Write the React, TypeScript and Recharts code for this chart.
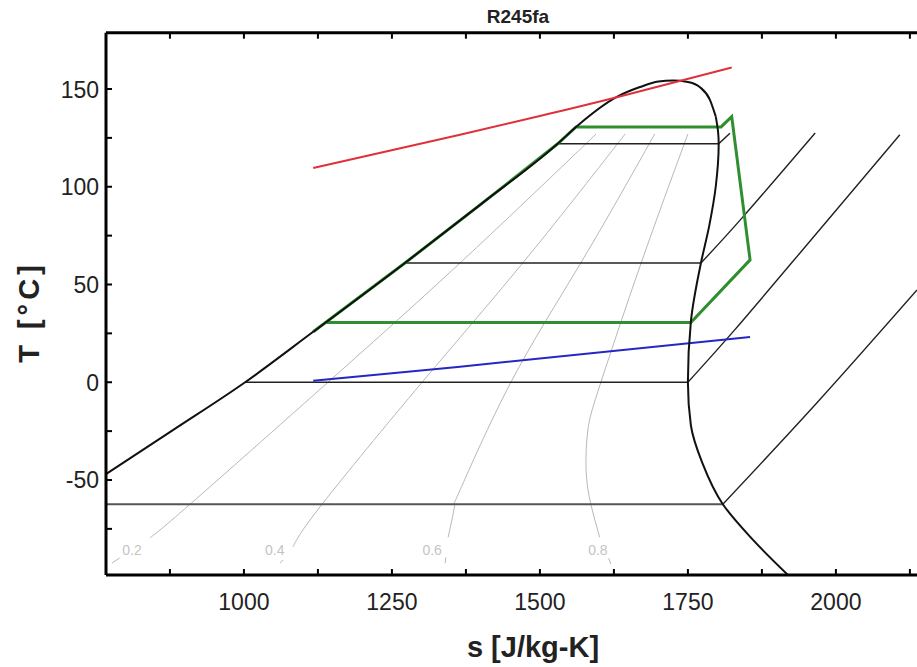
import { ComposedChart, Line, Scatter, XAxis, YAxis } from "recharts";

type Pt = [number, number] | null;

// axis ticks
const sTicks = [875, 1000, 1125, 1250, 1375, 1500, 1625, 1750, 1875, 2000, 2125];
const sLabels = [1000, 1250, 1500, 1750, 2000];
const tTicks = [-75, -50, -25, 0, 25, 50, 75, 100, 125, 150];
const tLabels = [-50, 0, 50, 100, 150];

// saturated liquid line up over the critical point, [s, T]
const satLiquid: Pt[] = [
  [767, -47], [880, -24.5], [1002, 0], [1117, 25.8], [1272, 61], [1400, 91],
  [1530, 122], [1561, 130.6], [1630, 146], [1669, 151], [1700, 153.8], [1725, 154.3],
  [1750, 153.6], [1770, 151], [1787, 144.6], [1797, 136],
];
// saturated vapour line from there down
const satVapour: Pt[] = [
  [1797, 136], [1801, 128], [1802, 122], [1797, 100], [1786, 80], [1772, 61],
  [1755, 31], [1750, 0], [1755, -22], [1774, -41], [1809, -62.4], [1858, -80], [1919, -98.6],
];

// isotherms inside the dome
const isoM62: Pt[] = [[767, -62.4], [1809, -62.4]];
const iso0: Pt[] = [[1002, 0], [1750, 0]];
const iso61: Pt[] = [[1272, 61], [1772, 61]];
const iso122: Pt[] = [[1532, 122], [1802, 122], [1821, 127.4]];

// isobars in the superheated region
const shA: Pt[] = [[1772, 61], [1843, 84.6], [1965, 127.5]];
const shB: Pt[] = [[1750, 0], [1829, 26.8], [1939, 66], [2108, 126.6]];
const shC: Pt[] = [[1809, -62.4], [1968, -10.5], [2137, 47.2]];

// quality lines (null = gap for the label)
const q02: Pt[] = [[1595, 127], [1365, 61], [1142, 0], [909, -62.4], [841, -79.6], null, [790, -89.9], [777, -92.5]];
const q04: Pt[] = [[1644, 127], [1471, 61], [1301, 0], [1132, -62.4], [1083, -84.2], null, [1066, -91], [1061, -92.5]];
const q06: Pt[] = [[1694, 127], [1569, 61], [1451, 0], [1365, -55.2], [1356, -62.4], [1345, -79.3], null, [1341, -89.6], [1340, -92.5]];
const q08: Pt[] = [[1750, 127], [1671, 61], [1603, 0], [1581, -24.4], [1578, -45], [1586, -62.4], [1601, -79.3], null, [1616, -90], [1620, -93]];
const qualityLabels = [
  { s: 811, T: -85.9, text: "0.2" },
  { s: 1052, T: -85.9, text: "0.4" },
  { s: 1318, T: -85.9, text: "0.6" },
  { s: 1598, T: -85.9, text: "0.8" },
];

// ORC cycle
const cycle: Pt[] = [
  [1117, 25.8], [1272, 61], [1400, 91], [1530, 122], [1561, 130.6], [1806, 130.6],
  [1824, 135.9], [1855, 62.6], [1755, 30.5], [1140, 30.5],
];
const hotSource: Pt[] = [[1117, 109.6], [1365, 126.6], [1500, 136.2], [1630, 145.8], [1824, 161]];
const coldSink: Pt[] = [[1117, 0.8], [1361, 7.8], [1855, 23.2]];

const rows = (pts: Pt[]) => {
  let last = 0;
  return pts.map((p) => {
    if (p === null) return { s: last, T: null };
    last = p[0];
    return { s: p[0], T: p[1] };
  });
};

const FONT = "'Liberation Sans', Arial, Helvetica, sans-serif";

const BottomTick = (props: any) => {
  const { x, y, payload } = props;
  const show = sLabels.includes(payload.value);
  return (
    <g>
      <line x1={x} x2={x} y1={y} y2={y - 6} stroke="#000" strokeWidth={2} />
      {show && (
        <text x={x} y={y + 35} textAnchor="middle" fontSize={23} fontFamily={FONT} fill="#222">
          {payload.value}
        </text>
      )}
    </g>
  );
};

const TopTick = (props: any) => {
  const { x, y } = props;
  return <line x1={x} x2={x} y1={y} y2={y + 6} stroke="#000" strokeWidth={2} />;
};

const LeftTick = (props: any) => {
  const { x, y, payload } = props;
  const show = tLabels.includes(payload.value);
  return (
    <g>
      <line x1={x} x2={x + 6} y1={y} y2={y} stroke="#000" strokeWidth={2} />
      {show && (
        <text x={x - 7} y={y + 8.5} textAnchor="end" fontSize={23} fontFamily={FONT} fill="#222">
          {payload.value}
        </text>
      )}
    </g>
  );
};

const QLabel = (props: any) => (
  <text x={props.cx} y={props.cy + 5} textAnchor="middle" fontSize={14} fontFamily={FONT} fill="#c4c4c4">
    {props.payload.text}
  </text>
);

type Curve = "linear" | "natural" | "monotone" | "monotoneY";
const series: { pts: Pt[]; color: string; width: number; type: Curve }[] = [
  { pts: q02, color: "#b8b8b8", width: 1, type: "natural" },
  { pts: q04, color: "#b8b8b8", width: 1, type: "natural" },
  { pts: q06, color: "#b8b8b8", width: 1, type: "natural" },
  { pts: q08, color: "#b8b8b8", width: 1, type: "natural" },
  { pts: isoM62, color: "#555", width: 2, type: "linear" },
  { pts: iso0, color: "#222", width: 1.5, type: "linear" },
  { pts: iso61, color: "#222", width: 1.5, type: "linear" },
  { pts: iso122, color: "#222", width: 1.5, type: "linear" },
  { pts: shA, color: "#222", width: 1.4, type: "natural" },
  { pts: shB, color: "#222", width: 1.4, type: "natural" },
  { pts: shC, color: "#222", width: 1.4, type: "natural" },
  { pts: coldSink, color: "#2626c4", width: 2, type: "linear" },
  { pts: cycle, color: "#2f8f2f", width: 3, type: "linear" },
  { pts: satLiquid, color: "#111", width: 2, type: "monotone" },
  { pts: satVapour, color: "#111", width: 2, type: "monotoneY" },
  { pts: hotSource, color: "#e0303c", width: 2, type: "natural" },
];

export default function App() {
  return (
    <div style={{ position: "absolute", left: 0, top: 0, width: 917, height: 667, background: "#fff", fontFamily: FONT }}>
      <ComposedChart width={917} height={667} margin={{ top: 24.7, right: 0, bottom: 0, left: 0 }}>
        <XAxis
          xAxisId="top"
          orientation="top"
          type="number"
          dataKey="s"
          domain={[767, 2137]}
          allowDataOverflow
          ticks={sTicks}
          height={8}
          tickSize={0}
          tickMargin={0}
          tick={<TopTick />}
          axisLine={{ stroke: "#000", strokeWidth: 3 }}
          tickLine={false}
          interval={0}
        />
        <XAxis
          type="number"
          dataKey="s"
          domain={[767, 2137]}
          allowDataOverflow
          ticks={sTicks}
          height={92}
          tickSize={0}
          tickMargin={0}
          tick={<BottomTick />}
          axisLine={{ stroke: "#000", strokeWidth: 3 }}
          tickLine={false}
          interval={0}
        />
        <YAxis
          type="number"
          dataKey="T"
          domain={[-98.6, 178.8]}
          allowDataOverflow
          ticks={tTicks}
          width={106}
          tickSize={0}
          tickMargin={0}
          tick={<LeftTick />}
          axisLine={{ stroke: "#000", strokeWidth: 3 }}
          tickLine={false}
          interval={0}
        />
        {series.map((sr, i) => (
          <Line
            key={i}
            data={rows(sr.pts)}
            dataKey="T"
            type={sr.type}
            stroke={sr.color}
            strokeWidth={sr.width}
            dot={false}
            activeDot={false}
            isAnimationActive={false}
          />
        ))}
        <Scatter xAxisId="top" data={qualityLabels} dataKey="T" shape={<QLabel />} isAnimationActive={false} />
      </ComposedChart>
      <div style={{ position: "absolute", left: 518, top: 17, transform: "translate(-50%, -50%)", fontSize: 19, fontWeight: "bold", color: "#222", whiteSpace: "nowrap" }}>
        R245fa
      </div>
      <div style={{ position: "absolute", left: 533, top: 647, transform: "translate(-50%, -50%)", fontSize: 29, fontWeight: "bold", color: "#222", whiteSpace: "nowrap" }}>
        s [J/kg-K]
      </div>
      <div style={{ position: "absolute", left: 29, top: 312, transform: "translate(-50%, -50%) rotate(-90deg)", fontSize: 29, fontWeight: "bold", color: "#222", whiteSpace: "nowrap", letterSpacing: 4 }}>
        T [°C]
      </div>
    </div>
  );
}
